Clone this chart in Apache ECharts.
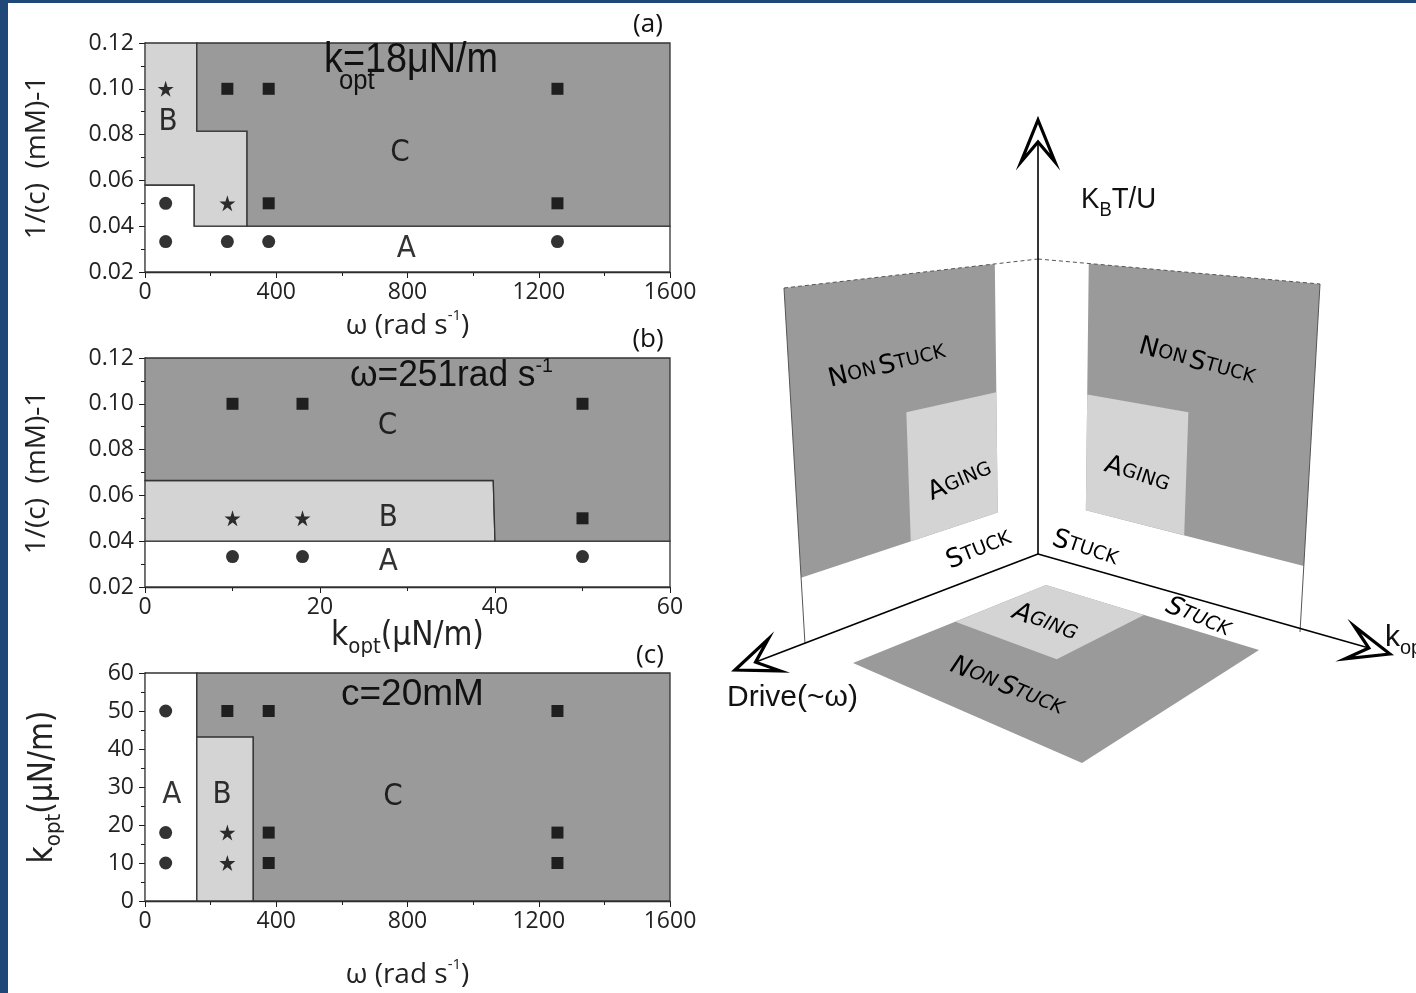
<!DOCTYPE html>
<html><head><meta charset="utf-8">
<script src="https://cdn.jsdelivr.net/npm/echarts@6/dist/echarts.min.js"></script>
<style>html,body{margin:0;padding:0;background:#fff}#c{width:1416px;height:993px}</style>
</head><body><div id="c"></div>
<script>
// ---------------- DATA ----------------
// Panel (a): x = omega (rad/s), y = 1/c (1/mM), k_opt = 18
const aCircles = [[63,0.05],[63,0.0333],[251,0.0333],[377,0.0333],[1257,0.0333]];
const aSquares = [[251,0.1],[377,0.1],[1257,0.1],[377,0.05],[1257,0.05]];
const aStars   = [[63,0.1],[251,0.05]];
const aRegionA = [[0,0.02],[1600,0.02],[1600,0.04],[150,0.04],[150,0.058],[0,0.058]];
const aRegionB = [[0,0.058],[150,0.058],[150,0.04],[311,0.04],[311,0.0815],[158,0.0815],[158,0.12],[0,0.12]];
const aRegionC = [[158,0.12],[1600,0.12],[1600,0.04],[311,0.04],[311,0.0815],[158,0.0815]];
const aLetters = [[70,0.0855,'B'],[777,0.072,'C'],[796,0.030,'A']];
// Panel (b): x = k_opt (uN/m), y = 1/c, omega = 251
const bCircles = [[10,0.0333],[18,0.0333],[50,0.0333]];
const bSquares = [[10,0.1],[18,0.1],[50,0.1],[50,0.05]];
const bStars   = [[10,0.05],[18,0.05]];
const bRegionA = [[0,0.02],[60,0.02],[60,0.04],[0,0.04]];
const bRegionB = [[0,0.04],[40,0.04],[39.8,0.0665],[0,0.0665]];
const bRegionC = [[0,0.0665],[39.8,0.0665],[40,0.04],[60,0.04],[60,0.12],[0,0.12]];
const bLetters = [[27.7,0.0903,'C'],[27.8,0.050,'B'],[27.8,0.031,'A']];
// Panel (c): x = omega, y = k_opt, c = 20 mM
const cCircles = [[63,50],[63,18],[63,10]];
const cSquares = [[251,50],[377,50],[1257,50],[377,18],[1257,18],[377,10],[1257,10]];
const cStars   = [[251,18],[251,10]];
const cRegionA = [[0,0],[158,0],[158,60],[0,60]];
const cRegionB = [[158,0],[330,0],[330,43.2],[158,43.2]];
const cRegionC = [[158,60],[1600,60],[1600,0],[330,0],[330,43.2],[158,43.2]];
const cLetters = [[82,27.9,'A'],[235,27.9,'B'],[756,27.4,'C']];
// Axis ranges / tick steps
const omegaRange = [0,1600,400];
const invCRange = [0.02,0.12,0.02];
const kRangeB = [0,60,20];
const kRangeC = [0,60,10];
// Schematic (3D sketch) frame and region parameters
const leftWallQuad  = [[1038,554],[805,644],[784,288],[1038,259]];
const rightWallQuad = [[1038,554],[1300,632],[1320,284],[1038,259]];
const floorQuad     = [[1046,585],[1259,650],[1082,763],[853,663]];
const leftNonStuck  = [0.17,1,0.186,1];
const leftAging     = [0.17,0.537,0.186,0.58];
const rightNonStuck = [0.18,1,0.19,1];
const rightAging    = [0.18,0.55,0.19,0.57];
const floorNonStuck = [0,1,0,1];
const floorAging    = [0,0.46,0,0.47];

// ---------------- STYLE ----------------
const DARK = '#9a9a9a', LIGHT = '#d4d4d4', INK = '#1c1c1c';
const NARROW = '"Liberation Sans Narrow","DejaVu Sans Condensed","Roboto Condensed","Liberation Sans",sans-serif';
const PLAIN = '"Liberation Sans",sans-serif';
const TICKFONT = '"Open Sans",sans-serif';
const STAR = 'path://M50,0 L61.2,34.5 L97.6,34.5 L68.2,55.9 L79.4,90.5 L50,69.1 L20.6,90.5 L31.8,55.9 L2.4,34.5 L38.8,34.5 Z';

const chart = echarts.init(document.getElementById('c'), null, {renderer:'canvas'});

const grids = [
  {left:145, top:43, width:525, height:229},
  {left:145, top:358, width:525, height:229},
  {left:145, top:673, width:525, height:228}
];

const plainNum = v => String(v);
function xAx(gi, rng, name, gap, nameStyle){
  return {gridIndex:gi, type:'value', min:rng[0], max:rng[1], interval:rng[2],
    axisLine:{show:true, onZero:false, lineStyle:{color:INK, width:1.3}},
    axisTick:{show:true, length:6, lineStyle:{color:INK}},
    minorTick:{show:true, splitNumber:2, length:4, lineStyle:{color:INK}},
    splitLine:{show:false}, minorSplitLine:{show:false},
    axisLabel:{fontSize:23, fontFamily:TICKFONT, color:'#222', margin:9, formatter:plainNum},
    name:name, nameLocation:'middle', nameGap:gap, nameTextStyle:nameStyle};
}
function yAx(gi, rng, name, gap, nameStyle, fmt){
  return {gridIndex:gi, type:'value', min:rng[0], max:rng[1], interval:rng[2],
    axisLine:{show:true, onZero:false, lineStyle:{color:INK, width:1.3}},
    axisTick:{show:true, length:6, lineStyle:{color:INK}},
    minorTick:{show:true, splitNumber:2, length:4, lineStyle:{color:INK}},
    splitLine:{show:false}, minorSplitLine:{show:false},
    axisLabel:{fontSize:23, fontFamily:TICKFONT, color:'#222', margin:11, formatter:fmt || plainNum},
    name:name, nameLocation:'middle', nameGap:gap, nameTextStyle:nameStyle};
}
const f2 = v => v.toFixed(2);
const omegaName = {fontFamily:TICKFONT, color:'#222', rich:{
  m:{fontSize:28, fontFamily:TICKFONT, color:'#222', lineHeight:36},
  sup:{fontSize:15, fontFamily:TICKFONT, color:'#222', verticalAlign:'top', lineHeight:36}}};
const invCName = {fontSize:28, fontFamily:TICKFONT, color:'#222'};
const kName = {rich:{
  m:{fontSize:33, fontFamily:NARROW, color:'#222', lineHeight:44},
  sub:{fontSize:22, fontFamily:NARROW, color:'#222', verticalAlign:'bottom', lineHeight:44}}};

function regionSeries(gi, polys){
  return {type:'custom', xAxisIndex:gi, yAxisIndex:gi, z:1, silent:true, clip:false,
    data: polys.map(p => p.pts[0]),
    renderItem:(params, api) => {
      const p = polys[params.dataIndex];
      return {type:'polygon', shape:{points:p.pts.map(v => api.coord(v))},
        style:{fill:p.color, stroke:'#333', lineWidth:1.3}};
    }};
}
function pts(gi, data, symbol, size){
  return {type:'scatter', xAxisIndex:gi, yAxisIndex:gi, z:5, silent:true,
    symbol:symbol, symbolSize:size, data:data, itemStyle:{color:'#000'}};
}
function letters(gi, data){
  return {type:'scatter', xAxisIndex:gi, yAxisIndex:gi, z:6, silent:true,
    symbolSize:2, itemStyle:{color:'rgba(0,0,0,0)'},
    data:data.map(d => ({value:[d[0],d[1]], name:d[2]})),
    label:{show:true, position:'inside', formatter:'{b}', fontSize:31, fontFamily:NARROW, color:'#000'}};
}

// ---- schematic helpers ----
function bil(q, u, v){
  const w = [(1-u)*(1-v), u*(1-v), u*v, (1-u)*v];
  return [0,1].map(k => w[0]*q[0][k] + w[1]*q[1][k] + w[2]*q[2][k] + w[3]*q[3][k]);
}
function patch(q, r, fill){
  return {type:'polygon', z:10, silent:true,
    shape:{points:[bil(q,r[0],r[2]), bil(q,r[1],r[2]), bil(q,r[1],r[3]), bil(q,r[0],r[3])]},
    style:{fill:fill}};
}
function arrowHead(tip, from){
  const dx = tip[0]-from[0], dy = tip[1]-from[1], L = Math.hypot(dx,dy);
  const d = [dx/L, dy/L], n = [-d[1], d[0]];
  const back = 42, wing = 17, notch = 22;
  return {type:'polygon', z:14, silent:true,
    shape:{points:[tip,
      [tip[0]-back*d[0]+wing*n[0], tip[1]-back*d[1]+wing*n[1]],
      [tip[0]-notch*d[0], tip[1]-notch*d[1]],
      [tip[0]-back*d[0]-wing*n[0], tip[1]-back*d[1]-wing*n[1]]]},
    style:{fill:'#fff', stroke:'#000', lineWidth:3.2, lineJoin:'miter'}};
}
function line(a, b, w, color, dash){
  return {type:'line', z:13, silent:true, shape:{x1:a[0], y1:a[1], x2:b[0], y2:b[1]},
    style:{stroke:color||'#000', lineWidth:w, lineDash:dash||null}};
}
const SCF = '"DejaVu Sans",sans-serif';
function sc(text, x, y, rot, italic){
  const st = italic ? 'italic' : 'normal';
  return {type:'text', z:15, silent:true, x:x, y:y, rotation:rot,
    style:{text:text, align:'center', verticalAlign:'middle', rich:{
      b:{fontSize:26, fontFamily:SCF, fontStyle:st, fill:'#000'},
      s:{fontSize:19, fontFamily:SCF, fontStyle:st, fill:'#000'}}}};
}
function txt(text, x, y, size, family, align, rich, sx){
  return {type:'text', z:20, silent:true, x:x, y:y, scaleX:sx||1,
    style:{text:text, fontSize:size, fontFamily:family, fill:'#111', align:align||'left', verticalAlign:'middle', rich:rich}};
}

const origin = leftWallQuad[0];
const vTip = [1038,120], dTip = [735,670], kTip = [1390,654];
const subRich = (size) => ({
  m:{fontSize:size, fontFamily:PLAIN, fill:'#111', lineHeight:40},
  sub:{fontSize:Math.round(size*0.66), fontFamily:PLAIN, fill:'#111', verticalAlign:'bottom', lineHeight:40}});

const graphics = [
  {type:'rect', z:30, shape:{x:0, y:0, width:8, height:993}, style:{fill:'#1f4879'}},
  {type:'rect', z:30, shape:{x:0, y:0, width:1416, height:3}, style:{fill:'#1f4879'}},
  // panel annotations
  txt('k=18μN/m', 324, 60, 42, PLAIN, 'left', null, 0.9),
  txt('opt', 339, 82, 27, PLAIN, 'left', null, 0.95),
  txt('{m|ω=251rad s}{sup|-1}', 350, 376, 36, PLAIN, 'left', {
    m:{fontSize:36, fontFamily:PLAIN, fill:'#111', lineHeight:40},
    sup:{fontSize:20, fontFamily:PLAIN, fill:'#111', verticalAlign:'top', lineHeight:40}}, 0.98),
  txt('c=20mM', 341, 695, 37, PLAIN),
  txt('(a)', 648, 25, 26, TICKFONT, 'center'),
  txt('(b)', 648, 340, 26, TICKFONT, 'center'),
  txt('(c)', 650, 656, 26, TICKFONT, 'center'),
  // schematic surfaces
  patch(floorQuad, floorNonStuck, DARK),
  patch(floorQuad, floorAging, LIGHT),
  patch(leftWallQuad, leftNonStuck, DARK),
  patch(leftWallQuad, leftAging, LIGHT),
  patch(rightWallQuad, rightNonStuck, DARK),
  patch(rightWallQuad, rightAging, LIGHT),
  line(leftWallQuad[2], leftWallQuad[3], 1, '#555', [4,3]),
  line(rightWallQuad[3], rightWallQuad[2], 1, '#555', [4,3]),
  line(leftWallQuad[2], leftWallQuad[1], 1, '#555'),
  line(rightWallQuad[2], rightWallQuad[1], 1, '#555'),
  // axes of schematic
  line(origin, [1038,142], 1.6),
  line(origin, [757,661.5], 1.6),
  line(origin, [1369,648], 1.6),
  arrowHead(vTip, origin),
  arrowHead(dTip, origin),
  arrowHead(kTip, origin),
  txt('{m|K}{sub|B}{m|T/U}', 1081, 200, 30, PLAIN, 'left', subRich(30), 0.92),
  txt('Drive(~ω)', 727, 698, 30, PLAIN),
  txt('{m|k}{sub|opt}', 1385, 638, 30, PLAIN, 'left', subRich(30)),
  // schematic labels
  sc('{b|N}{s|ON} {b|S}{s|TUCK}', 887, 366, 0.24),
  sc('{b|N}{s|ON} {b|S}{s|TUCK}', 1197, 362, -0.27),
  sc('{b|A}{s|GING}', 960, 481, 0.40),
  sc('{b|A}{s|GING}', 1137, 475, -0.33),
  sc('{b|S}{s|TUCK}', 979, 550, 0.38),
  sc('{b|S}{s|TUCK}', 1085, 549, -0.33),
  sc('{b|A}{s|GING}', 1045, 623, -0.37, true),
  sc('{b|S}{s|TUCK}', 1198, 618, -0.40, true),
  sc('{b|N}{s|ON} {b|S}{s|TUCK}', 1007, 687, -0.39, true)
];

const option = {
  animation:false,
  backgroundColor:'#fff',
  grid: grids,
  xAxis: [
    xAx(0, omegaRange, '{m|ω (rad s}{sup|-1}{m|)}', 36, omegaName),
    xAx(1, kRangeB, '{m|k}{sub|opt}{m|(μN/m)}', 18, kName),
    xAx(2, omegaRange, '{m|ω (rad s}{sup|-1}{m|)}', 56, omegaName)
  ],
  yAxis: [
    yAx(0, invCRange, '1/(c)  (mM)-1', 94, invCName, f2),
    yAx(1, invCRange, '1/(c)  (mM)-1', 94, invCName, f2),
    yAx(2, kRangeC, '{m|k}{sub|opt}{m|(μN/m)}', 80, kName)
  ],
  series: [
    regionSeries(0, [{pts:aRegionA, color:'#fff'},{pts:aRegionB, color:LIGHT},{pts:aRegionC, color:DARK}]),
    regionSeries(1, [{pts:bRegionA, color:'#fff'},{pts:bRegionB, color:LIGHT},{pts:bRegionC, color:DARK}]),
    regionSeries(2, [{pts:cRegionA, color:'#fff'},{pts:cRegionB, color:LIGHT},{pts:cRegionC, color:DARK}]),
    pts(0, aCircles, 'circle', 13), pts(0, aSquares, 'rect', 12), pts(0, aStars, STAR, 16),
    pts(1, bCircles, 'circle', 13), pts(1, bSquares, 'rect', 12), pts(1, bStars, STAR, 16),
    pts(2, cCircles, 'circle', 13), pts(2, cSquares, 'rect', 12), pts(2, cStars, STAR, 16),
    letters(0, aLetters), letters(1, bLetters), letters(2, cLetters)
  ],
  graphic: graphics
};
chart.setOption(option);
</script></body></html>
